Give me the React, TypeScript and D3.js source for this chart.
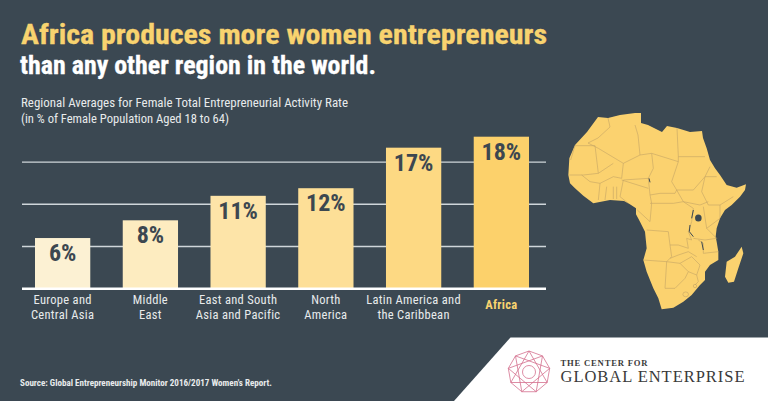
import React from "react";
import * as d3 from "d3";

const width = 768;
const height = 401;

const categories = ["Europe", "Middle East", "East Asia", "North America", "Latin America", "Africa"];
const values = [6, 8.1, 11, 11.9, 16.7, 18];
const valueLabels = ["6%", "8%", "11%", "12%", "17%", "18%"];
const categoryLines = [
  ["Europe and", "Central Asia"],
  ["Middle", "East"],
  ["East and South", "Asia and Pacific"],
  ["North", "America"],
  ["Latin America and", "the Caribbean"],
  ["Africa"],
];
const barColors = ["#fcf1d3", "#fdecc0", "#fde4a8", "#fddf97", "#fdd983", "#fcd16b"];
const gridTicks = [5, 10, 15];

type Pt = [number, number];

// map outline, in a 654x585 box placed at (550,125)
const africaOutline: Pt[] = [
  [75, 60], [111, 21], [144, -24], [174, -21], [210, -30], [255, -36], [273, -36], [273, -6], [294, 0], [336, 21],
  [351, 3], [381, 9], [420, 21], [456, 18], [459, 39], [470, 70], [480, 105], [495, 130], [510, 150],
  [530, 180], [560, 188], [588, 178], [585, 195], [570, 215], [545, 240], [525, 255], [510, 280], [500, 310],
  [497, 335], [500, 350], [505, 380], [505, 405], [480, 420], [465, 440], [465, 465], [450, 480], [425, 510],
  [400, 530], [370, 548], [335, 553], [325, 520], [310, 490], [290, 440], [280, 405], [290, 370], [285, 320],
  [270, 290], [258, 268], [258, 250], [235, 235], [222, 228], [180, 225], [130, 235], [100, 212], [75, 190],
  [60, 175], [55, 150], [58, 100],
];
const madagascar: Pt[] = [
  [575, 365], [580, 385], [565, 430], [552, 470], [535, 473], [525, 455], [530, 410], [555, 395],
];
const borders: Pt[][] = [
  [[174, -21], [180, 6], [144, 39], [114, 54]],
  [[114, 54], [145, 70], [220, 115], [270, 90], [264, 30], [255, 0]],
  [[62, 105], [75, 62], [135, 62], [145, 145]],
  [[58, 150], [100, 150], [145, 145], [190, 115]],
  [[220, 115], [215, 160], [190, 155], [150, 175], [120, 170], [95, 150]],
  [[270, 90], [305, 85], [385, 110], [385, 95], [465, 95]],
  [[381, 9], [385, 95]],
  [[305, 85], [310, 130], [295, 160], [220, 165]],
  [[385, 110], [365, 170], [380, 195], [375, 205], [330, 205], [300, 210], [295, 160]],
  [[380, 195], [430, 195], [465, 155], [480, 125]],
  [[465, 155], [500, 155]],
  [[380, 195], [400, 230], [450, 240], [475, 230]],
  [[465, 155], [455, 200], [475, 240], [510, 240], [550, 215]],
  [[510, 240], [510, 280], [470, 310], [460, 245]],
  [[300, 235], [370, 235], [400, 230], [430, 250], [425, 290], [415, 320], [425, 345], [410, 340], [415, 370], [385, 360], [360, 360], [355, 320], [290, 315]],
  [[220, 165], [210, 215], [235, 235]],
  [[215, 165], [295, 190]],
  [[150, 175], [145, 225]],
  [[170, 185], [165, 225]],
  [[190, 185], [190, 222]],
  [[200, 185], [200, 222]],
  [[300, 210], [305, 235], [300, 290], [262, 255]],
  [[470, 310], [500, 340]],
  [[430, 340], [465, 345], [500, 340]],
  [[505, 380], [460, 385], [460, 355], [445, 345]],
  [[280, 405], [350, 410], [365, 395], [360, 360]],
  [[350, 410], [345, 490]],
  [[350, 410], [390, 415], [415, 440], [405, 460], [375, 490], [345, 490]],
  [[360, 400], [385, 390], [415, 380], [440, 395]],
  [[390, 415], [425, 395], [450, 420], [440, 450], [415, 440]],
  [[440, 450], [445, 470], [435, 480]],
];
const lakes: Pt[][] = [
  [[420, 300], [418, 320], [430, 335]],
  [[455, 350], [460, 375]],
  [[430, 255], [425, 280]],
  [[297, 160], [300, 172]],
];

const x = d3.scaleBand<string>().domain(categories).range([35, 529]).paddingInner(0.37);
const y = d3.scaleLinear().domain([0, 18]).range([288.7, 136.7]);
const mapX = d3.scaleLinear().domain([0, 654]).range([550, 768]);
const mapY = d3.scaleLinear().domain([0, 585]).range([125, 320]);

const mapLine = d3.line<Pt>().x((d) => mapX(d[0])).y((d) => mapY(d[1]));
const closedLine = d3.line<Pt>().x((d) => mapX(d[0])).y((d) => mapY(d[1])).curve(d3.curveLinearClosed);

// logo star
const logoCx = 529;
const logoCy = 372;
const logoR = 21;
const logoPts: Pt[] = d3.range(9).map((i) => {
  const a = -Math.PI / 2 + (i * 2 * Math.PI) / 9;
  return [logoCx + logoR * Math.cos(a), logoCy + logoR * Math.sin(a)];
});

const sans = "'Liberation Sans Narrow', 'Roboto Condensed', 'Liberation Sans', sans-serif";
const bg = "#3b4852";
const yellow = "#f8d36f";
const borderColor = "#c4a465";
const pink = "#d4708e";

export default function App() {
  return (
    <svg width={width} height={height} style={{ position: "absolute", left: 0, top: 0 }} fontFamily={sans}>
      <rect width={width} height={height} fill={bg} />

      <text x={21} y={43.5} fontSize={28} fontWeight={700} fill={yellow} stroke={yellow} strokeWidth={0.3} textLength={526} lengthAdjust="spacingAndGlyphs">
        Africa produces more women entrepreneurs
      </text>
      <text x={20} y={74} fontSize={26} fontWeight={700} fill="#ffffff" stroke="#ffffff" strokeWidth={0.3} textLength={356} lengthAdjust="spacingAndGlyphs">
        than any other region in the world.
      </text>
      <text x={21} y={107} fontSize={13.5} fill="#e8ebec" textLength={327} lengthAdjust="spacingAndGlyphs">
        Regional Averages for Female Total Entrepreneurial Activity Rate
      </text>
      <text x={21} y={123} fontSize={13.5} fill="#e8ebec" textLength={208} lengthAdjust="spacingAndGlyphs">
        (in % of Female Population Aged 18 to 64)
      </text>

      {gridTicks.map((t) => (
        <line key={t} x1={22} x2={546} y1={y(t)} y2={y(t)} stroke="#cfd6da" strokeWidth={1.3} />
      ))}

      {categories.map((c, i) => (
        <g key={c}>
          <rect x={x(c)} y={y(values[i])} width={x.bandwidth()} height={y(0) - y(values[i])} fill={barColors[i]} />
          <text
            x={(x(c) as number) + x.bandwidth() / 2}
            y={y(values[i]) + 23}
            textAnchor="middle"
            fontSize={24}
            fontWeight={700}
            fill="#3c4750"
          >
            {valueLabels[i]}
          </text>
          {categoryLines[i].map((line, j) => (
            <text
              key={line}
              x={(x(c) as number) + x.bandwidth() / 2}
              y={categoryLines[i].length === 1 ? 309 : 304 + j * 14.5}
              textAnchor="middle"
              fontSize={12.5}
              fontWeight={i === 5 ? 700 : 400}
              letterSpacing={0.3}
              fill={i === 5 ? yellow : "#e8ebec"}
            >
              {line}
            </text>
          ))}
        </g>
      ))}
      <line x1={22} x2={546} y1={y(0)} y2={y(0)} stroke="#ffffff" strokeWidth={2.4} />

      <path d={closedLine(africaOutline) as string} fill="#fbd26f" />
      <path d={closedLine(madagascar) as string} fill="#fbd26f" />
      {borders.map((b, i) => (
        <path key={i} d={mapLine(b) as string} fill="none" stroke={borderColor} strokeWidth={0.6} />
      ))}
      <ellipse cx={mapX(407)} cy={mapY(508)} rx={2.8} ry={2.4} fill="none" stroke={borderColor} strokeWidth={0.6} />
      <circle cx={mapX(435)} cy={mapY(483)} r={1.7} fill="none" stroke={borderColor} strokeWidth={0.6} />
      <ellipse cx={mapX(445)} cy={mapY(279)} rx={3.3} ry={3.6} fill={bg} />
      {lakes.map((l, i) => (
        <path key={i} d={mapLine(l) as string} fill="none" stroke={bg} strokeWidth={1} />
      ))}

      <path d="M510.5,337.5L768,337.5L768,401L454,401Z" fill="#ffffff" />
      {logoPts.map((p, i) => {
        const a = logoPts[(i + 1) % 9];
        const b = logoPts[(i + 3) % 9];
        return (
          <g key={i} stroke={pink} strokeWidth={0.8}>
            <line x1={p[0]} y1={p[1]} x2={a[0]} y2={a[1]} />
            <line x1={p[0]} y1={p[1]} x2={b[0]} y2={b[1]} />
          </g>
        );
      })}
      <circle cx={logoCx} cy={logoCy} r={6.5} fill="none" stroke={pink} strokeWidth={0.8} />
      <text x={560.5} y={365.5} fontFamily="'Liberation Serif', serif" fontSize={8.6} fontWeight={700} fill="#3a3a3a" textLength={87} lengthAdjust="spacing">
        THE CENTER FOR
      </text>
      <text x={560.5} y={381.7} fontFamily="'Liberation Serif', serif" fontSize={16.5} fill="#3a3a3a" textLength={184} lengthAdjust="spacing">
        GLOBAL ENTERPRISE
      </text>

      <text x={20} y={386} fontSize={8.5} fontWeight={700} fill="#e8ebec" textLength={252} lengthAdjust="spacingAndGlyphs">
        Source: Global Entrepreneurship Monitor 2016/2017 Women's Report.
      </text>
    </svg>
  );
}
